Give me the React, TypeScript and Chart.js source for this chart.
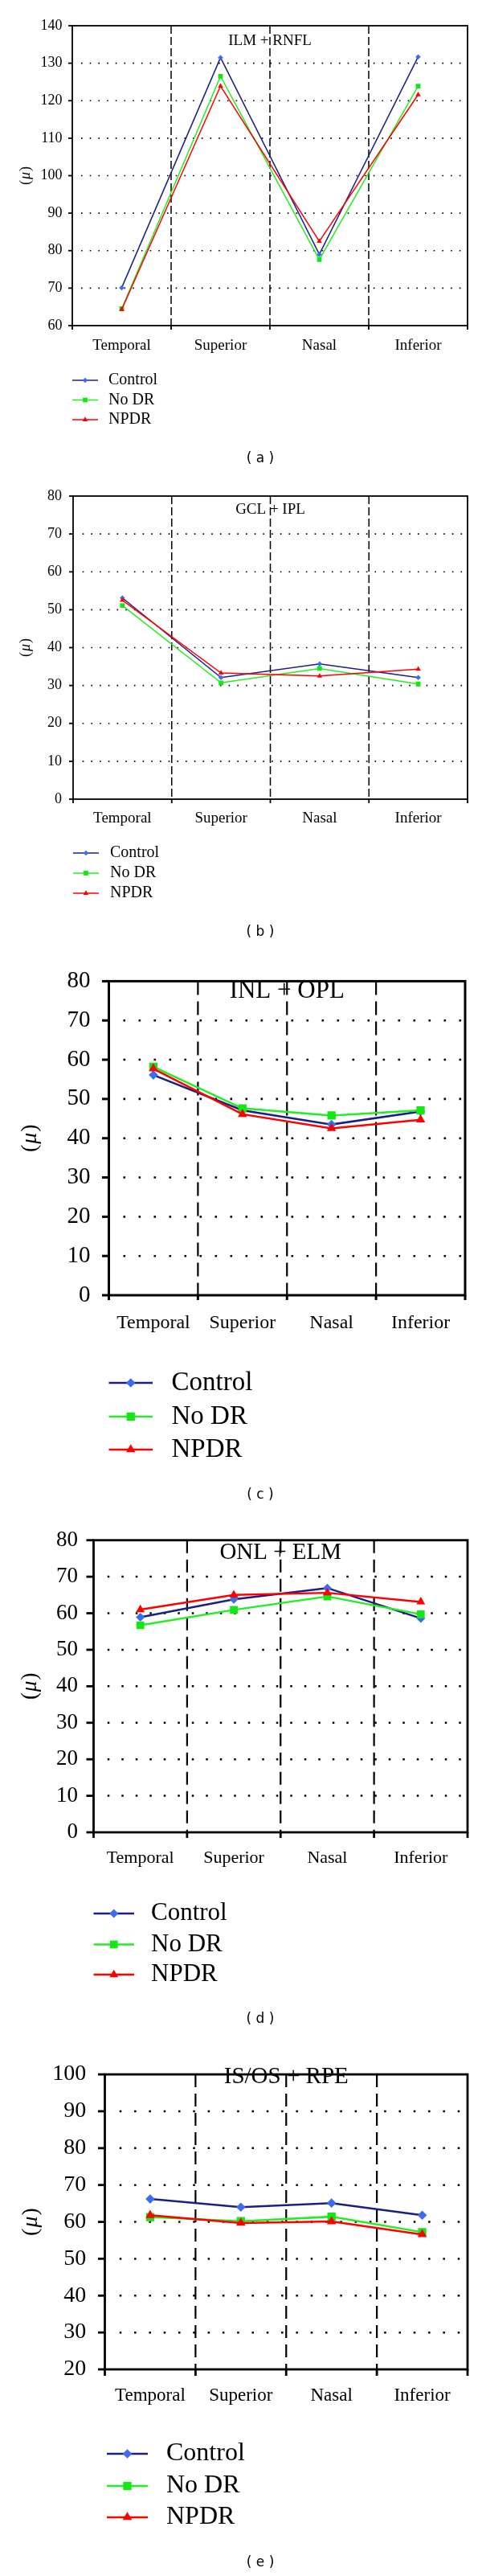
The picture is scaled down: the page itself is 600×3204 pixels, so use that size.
import React, { useEffect, useRef } from "react";
import { Chart, registerables } from "chart.js";

Chart.register(...registerables);

// ---------------- data ----------------
const categories = ["Temporal", "Superior", "Nasal", "Inferior"];
const seriesLabels = ["Control", "No DR", "NPDR"];

// (a) ILM + RNFL
const ilmRnflControl = [70.1, 131.5, 79.0, 131.7];
const ilmRnflNoDR = [64.5, 126.5, 77.6, 123.9];
const ilmRnflNPDR = [64.3, 123.9, 82.5, 121.6];
const ilmRnflAxis = [60, 140, 10];

// (b) GCL + IPL
const gclIplControl = [53.1, 32.1, 35.7, 32.1];
const gclIplNoDR = [51.1, 30.7, 34.5, 30.4];
const gclIplNPDR = [52.5, 33.3, 32.5, 34.3];
const gclIplAxis = [0, 80, 10];

// (c) INL + OPL
const inlOplControl = [56.1, 47.1, 43.5, 46.8];
const inlOplNoDR = [58.2, 47.6, 45.8, 47.1];
const inlOplNPDR = [57.7, 46.1, 42.5, 44.7];
const inlOplAxis = [0, 80, 10];

// (d) ONL + ELM
const onlElmControl = [58.9, 63.8, 66.9, 58.6];
const onlElmNoDR = [56.7, 60.9, 64.6, 59.7];
const onlElmNPDR = [61.0, 65.0, 65.6, 63.1];
const onlElmAxis = [0, 80, 10];

// (e) IS/OS + RPE
const isosRpeControl = [66.2, 64.0, 65.1, 61.8];
const isosRpeNoDR = [61.3, 60.2, 61.4, 57.2];
const isosRpeNPDR = [61.8, 59.7, 60.1, 56.6];
const isosRpeAxis = [20, 100, 10];

// ---------------- styles ----------------
const SERIF = '"Liberation Serif", "Times New Roman", serif';
const SANS = '"DejaVu Sans", Verdana, sans-serif';

const lineColors = ["#1c1f82", "#22ee22", "#ff0000"];
const pointColors = ["#3d6cf0", "#14e814", "#ff0000"];
const pointStyles = ["rectRot", "rect", "triangle"];
const pointScale = [1.0, 1.25, 1.15];

type Layout = {
  top: number;
  height: number;
  plotLeft: number;
  plotRight: number;
  plotTop: number;
  plotBottom: number;
  tickFont: number;
  tickPad: number;
  tickLen: number;
  xFont: number;
  xPad: number;
  xTickLen: number;
  titleFont: number;
  titleY: number;
  legendFont: number;
  legendYs: number[];
  legendX1: number;
  legendX2: number;
  legendTextX: number;
  captionY: number;
  captionFont: number;
  yTitleX: number;
  yTitleFont: number;
  lineWidth: number;
  pointR: number;
  frameWidth: number;
  dash: number[];
  dashWidth: number;
  dotGap: number;
  dotSize: number;
  dotStart: number;
};

const layoutA: Layout = {
  top: 0, height: 592, plotLeft: 90, plotRight: 582, plotTop: 32, plotBottom: 405,
  tickFont: 18, tickPad: 12.5, tickLen: 5, xFont: 19, xPad: 13.6, xTickLen: 5,
  titleFont: 19, titleY: 51, legendFont: 20, legendYs: [473, 497.5, 522],
  legendX1: 90, legendX2: 122, legendTextX: 135, captionY: 571, captionFont: 17,
  yTitleX: 32.5, yTitleFont: 18, lineWidth: 1.5, pointR: 3.3, frameWidth: 1.8,
  dash: [10, 4], dashWidth: 1.5, dotGap: 10.7, dotSize: 1.6, dotStart: 11,
};
const layoutB: Layout = {
  top: 592, height: 588, plotLeft: 91, plotRight: 582, plotTop: 617, plotBottom: 994,
  tickFont: 18, tickPad: 14, tickLen: 5, xFont: 19, xPad: 12.6, xTickLen: 5,
  titleFont: 19, titleY: 634, legendFont: 20, legendYs: [1061, 1086, 1111],
  legendX1: 91, legendX2: 123, legendTextX: 137, captionY: 1159.5, captionFont: 17,
  yTitleX: 32, yTitleFont: 18, lineWidth: 1.5, pointR: 3.3, frameWidth: 1.8,
  dash: [10, 4], dashWidth: 1.5, dotGap: 10.7, dotSize: 1.6, dotStart: 11.7,
};
const layoutC: Layout = {
  top: 1180, height: 700, plotLeft: 135.5, plotRight: 579, plotTop: 1211, plotBottom: 1611,
  tickFont: 29, tickPad: 23, tickLen: 8.5, xFont: 24, xPad: 20, xTickLen: 6,
  titleFont: 31, titleY: 1233, legendFont: 33, legendYs: [1720, 1762, 1803],
  legendX1: 135.5, legendX2: 190, legendTextX: 213.5, captionY: 1860, captionFont: 17,
  yTitleX: 38, yTitleFont: 28, lineWidth: 2.5, pointR: 5.8, frameWidth: 3,
  dash: [17, 8], dashWidth: 2.2, dotGap: 19, dotSize: 2.6, dotStart: 18,
};
const layoutD: Layout = {
  top: 1880, height: 660, plotLeft: 116.5, plotRight: 582, plotTop: 1912, plotBottom: 2279,
  tickFont: 27, tickPad: 19.5, tickLen: 9, xFont: 22, xPad: 19.3, xTickLen: 7,
  titleFont: 29, titleY: 1931, legendFont: 31, legendYs: [2380, 2418.5, 2456],
  legendX1: 116.5, legendX2: 167, legendTextX: 188, captionY: 2511.6, captionFont: 17,
  yTitleX: 38, yTitleFont: 27, lineWidth: 2.4, pointR: 5.5, frameWidth: 2.8,
  dash: [16, 8], dashWidth: 2.2, dotGap: 17.5, dotSize: 2.5, dotStart: 17.3,
};
const layoutE: Layout = {
  top: 2540, height: 664, plotLeft: 130.5, plotRight: 582, plotTop: 2566, plotBottom: 2947,
  tickFont: 28, tickPad: 23.3, tickLen: 8.5, xFont: 23, xPad: 19.2, xTickLen: 8,
  titleFont: 29, titleY: 2583, legendFont: 32, legendYs: [3052, 3092, 3131],
  legendX1: 133, legendX2: 184, legendTextX: 207, captionY: 3188, captionFont: 17,
  yTitleX: 39, yTitleFont: 28, lineWidth: 2.5, pointR: 5.8, frameWidth: 2.8,
  dash: [16, 8], dashWidth: 2.2, dotGap: 18.3, dotSize: 2.5, dotStart: 18.3,
};

type Panel = {
  title: string;
  caption: string;
  axis: number[];
  series: number[][];
  layout: Layout;
};

const panels: Panel[] = [
  { title: "ILM + RNFL", caption: "( a )", axis: ilmRnflAxis, series: [ilmRnflControl, ilmRnflNoDR, ilmRnflNPDR], layout: layoutA },
  { title: "GCL + IPL", caption: "( b )", axis: gclIplAxis, series: [gclIplControl, gclIplNoDR, gclIplNPDR], layout: layoutB },
  { title: "INL + OPL", caption: "( c )", axis: inlOplAxis, series: [inlOplControl, inlOplNoDR, inlOplNPDR], layout: layoutC },
  { title: "ONL + ELM", caption: "( d )", axis: onlElmAxis, series: [onlElmControl, onlElmNoDR, onlElmNPDR], layout: layoutD },
  { title: "IS/OS + RPE", caption: "( e )", axis: isosRpeAxis, series: [isosRpeControl, isosRpeNoDR, isosRpeNPDR], layout: layoutE },
];

function drawMarker(ctx: CanvasRenderingContext2D, style: string, x: number, y: number, r: number, color: string) {
  ctx.beginPath();
  if (style === "rectRot") {
    ctx.moveTo(x - r, y);
    ctx.lineTo(x, y - r);
    ctx.lineTo(x + r, y);
    ctx.lineTo(x, y + r);
  } else if (style === "rect") {
    const s = r * Math.SQRT1_2;
    ctx.rect(x - s, y - s, 2 * s, 2 * s);
  } else {
    ctx.moveTo(x, y - r);
    ctx.lineTo(x + 0.866 * r, y + 0.5 * r);
    ctx.lineTo(x - 0.866 * r, y + 0.5 * r);
  }
  ctx.closePath();
  ctx.fillStyle = color;
  ctx.fill();
}

function makeDecor(p: Panel) {
  const L = p.layout;
  const off = L.top;
  return {
    id: "decor",
    beforeDatasetsDraw(chart: any) {
      const ctx: CanvasRenderingContext2D = chart.ctx;
      const { left, right, top, bottom } = chart.chartArea;
      const xs = chart.scales.x;
      const ys = chart.scales.y;
      ctx.save();
      // dotted horizontal grid
      ctx.strokeStyle = "#000";
      ctx.lineWidth = L.dotSize;
      ctx.setLineDash([L.dotSize, L.dotGap - L.dotSize]);
      for (let v = p.axis[0] + p.axis[2]; v < p.axis[1] - 1e-9; v += p.axis[2]) {
        const y = ys.getPixelForValue(v);
        ctx.beginPath();
        ctx.moveTo(left + L.dotStart, y);
        ctx.lineTo(right - 2, y);
        ctx.stroke();
      }
      // dashed vertical dividers
      const bounds: number[] = [left];
      for (let i = 0; i < categories.length - 1; i++) {
        bounds.push((xs.getPixelForValue(i) + xs.getPixelForValue(i + 1)) / 2);
      }
      bounds.push(right);
      ctx.setLineDash(L.dash);
      ctx.lineWidth = L.dashWidth;
      for (let i = 1; i < bounds.length - 1; i++) {
        ctx.beginPath();
        ctx.moveTo(bounds[i], top);
        ctx.lineTo(bounds[i], bottom);
        ctx.stroke();
      }
      // frame
      ctx.setLineDash([]);
      ctx.lineWidth = L.frameWidth;
      ctx.strokeRect(left, top, right - left, bottom - top);
      // y ticks
      for (let v = p.axis[0]; v <= p.axis[1] + 1e-9; v += p.axis[2]) {
        const y = ys.getPixelForValue(v);
        ctx.beginPath();
        ctx.moveTo(left - L.tickLen, y);
        ctx.lineTo(left, y);
        ctx.stroke();
      }
      // x ticks at boundaries
      for (const bx of bounds) {
        ctx.beginPath();
        ctx.moveTo(bx, bottom);
        ctx.lineTo(bx, bottom + L.xTickLen);
        ctx.stroke();
      }
      ctx.restore();
    },
    afterDraw(chart: any) {
      const ctx: CanvasRenderingContext2D = chart.ctx;
      const { left, right, top, bottom } = chart.chartArea;
      ctx.save();
      ctx.fillStyle = "#000";
      // title
      ctx.font = `${L.titleFont}px ${SERIF}`;
      ctx.textAlign = "center";
      ctx.textBaseline = "middle";
      ctx.fillText(p.title, (left + right) / 2, L.titleY - off);
      // y title "(μ)"
      ctx.save();
      ctx.translate(L.yTitleX, (top + bottom) / 2);
      ctx.rotate(-Math.PI / 2);
      const roman = `${L.yTitleFont}px ${SERIF}`;
      const italic = `italic ${L.yTitleFont}px ${SERIF}`;
      ctx.font = roman;
      const wp = ctx.measureText("(").width;
      const wq = ctx.measureText(")").width;
      ctx.font = italic;
      const wm = ctx.measureText("\u03bc").width;
      let x0 = -(wp + wm + wq + 2) / 2;
      ctx.textAlign = "left";
      ctx.font = roman;
      ctx.fillText("(", x0, 0);
      x0 += wp + 1;
      ctx.font = italic;
      ctx.fillText("\u03bc", x0, 0);
      x0 += wm + 1;
      ctx.font = roman;
      ctx.fillText(")", x0, 0);
      ctx.restore();
      // legend
      for (let k = 0; k < seriesLabels.length; k++) {
        const y = L.legendYs[k] - off;
        ctx.strokeStyle = lineColors[k];
        ctx.lineWidth = L.lineWidth;
        ctx.beginPath();
        ctx.moveTo(L.legendX1, y);
        ctx.lineTo(L.legendX2, y);
        ctx.stroke();
        drawMarker(ctx, pointStyles[k], (L.legendX1 + L.legendX2) / 2, y, L.pointR * pointScale[k], pointColors[k]);
        ctx.fillStyle = "#000";
        ctx.font = `${L.legendFont}px ${SERIF}`;
        ctx.textAlign = "left";
        ctx.textBaseline = "middle";
        ctx.fillText(seriesLabels[k], L.legendTextX, y);
      }
      // caption
      ctx.font = `${L.captionFont}px ${SANS}`;
      ctx.textAlign = "center";
      ctx.textBaseline = "middle";
      ctx.fillText(p.caption, 324, L.captionY - off);
      ctx.restore();
    },
  };
}

function PanelChart({ p }: { p: Panel }) {
  const ref = useRef<HTMLCanvasElement>(null);
  useEffect(() => {
    const L = p.layout;
    const chart = new Chart(ref.current as HTMLCanvasElement, {
      type: "line",
      data: {
        labels: categories,
        datasets: p.series.map((vals, k) => ({
          label: seriesLabels[k],
          data: vals,
          borderColor: lineColors[k],
          backgroundColor: pointColors[k],
          borderWidth: L.lineWidth,
          pointStyle: pointStyles[k] as any,
          pointRadius: L.pointR * pointScale[k],
          pointBackgroundColor: pointColors[k],
          pointBorderColor: pointColors[k],
          pointBorderWidth: 0,
          tension: 0,
          fill: false,
          order: 2 - k,
        })),
      },
      options: {
        responsive: false,
        animation: false,
        devicePixelRatio: 1,
        events: [],
        layout: {
          padding: { left: 0, top: L.plotTop - L.top, right: 600 - L.plotRight, bottom: 0 },
        },
        plugins: {
          legend: { display: false },
          tooltip: { enabled: false },
          title: { display: false },
        },
        scales: {
          x: {
            type: "category",
            offset: true,
            grid: { display: false, drawTicks: false },
            border: { display: false },
            ticks: {
              color: "#000",
              font: { family: SERIF, size: L.xFont },
              padding: L.xPad,
              maxRotation: 0,
              autoSkip: false,
            },
            afterFit: (s: any) => {
              s.height = L.top + L.height - L.plotBottom;
            },
          },
          y: {
            type: "linear",
            min: p.axis[0],
            max: p.axis[1],
            grid: { display: false, drawTicks: false },
            border: { display: false },
            ticks: {
              stepSize: p.axis[2],
              color: "#000",
              font: { family: SERIF, size: L.tickFont },
              padding: L.tickPad,
              autoSkip: false,
            },
            afterFit: (s: any) => {
              s.width = L.plotLeft;
            },
          },
        },
      },
      plugins: [makeDecor(p) as any],
    } as any);
    return () => chart.destroy();
  }, [p]);
  return (
    <canvas
      ref={ref}
      width={600}
      height={p.layout.height}
      style={{ position: "absolute", left: 0, top: p.layout.top, width: 600, height: p.layout.height, display: "block" }}
    />
  );
}

export default function App() {
  return (
    <div style={{ position: "absolute", left: 0, top: 0, width: 600, height: 3204, background: "#fff" }}>
      {panels.map((p, i) => (
        <PanelChart key={i} p={p} />
      ))}
    </div>
  );
}
